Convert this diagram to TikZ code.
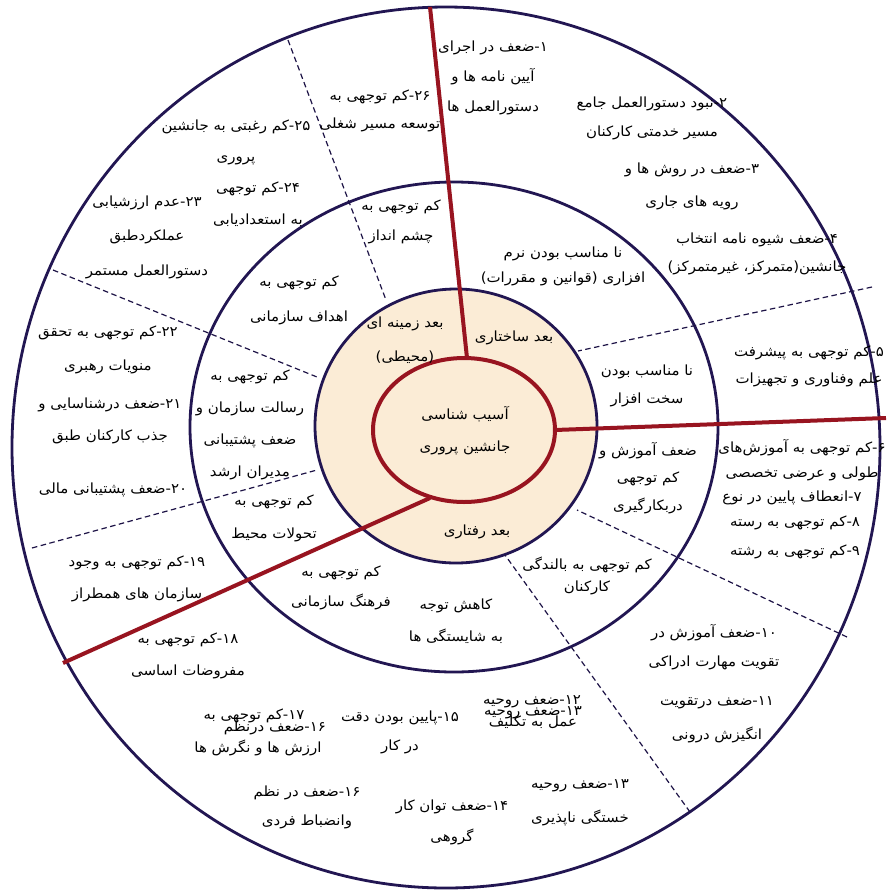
\documentclass[tikz,border=0pt]{standalone}
\usepackage{fontspec}
\newfontfamily\farsi[Script=Arabic,FakeStretch=1.07]{DejaVu Sans}
\TeXXeTstate=1
\newcommand{\fa}[1]{\beginR #1\endR}
\definecolor{ringnavy}{RGB}{34,22,82}
\definecolor{spokered}{RGB}{152,20,32}
\definecolor{corebeige}{RGB}{251,236,214}

\begin{document}
\begin{tikzpicture}[x=1pt,y=-1pt,
 ring/.style={draw=ringnavy,line width=2.8pt},
 spoke/.style={draw=spokered,line width=4pt},
 split/.style={draw=ringnavy!85!black,line width=1.2pt,dash pattern=on 5.5pt off 3.5pt},
 lbl/.style={font=\farsi\fontsize{14}{#1}\selectfont,align=center,inner sep=0pt},
 lbl/.default=30]
\useasboundingbox (0,0) rectangle (887,895);
% rings
\draw[ring,fill=white] (446,447.5) ellipse [x radius=434pt,y radius=440.5pt];
\draw[ring] (454,427) ellipse [x radius=264pt,y radius=245pt];
\draw[ring,fill=corebeige] (456,426) ellipse [x radius=141pt,y radius=137pt];
% spoke ends
\coordinate (topout) at (430,7);
\coordinate (topin) at (467,358);
\coordinate (rightout) at (886,418);
\coordinate (rightin) at (555,430);
\coordinate (leftout) at (63,663);
\coordinate (leftin) at (430,498);
\draw[spoke] (topout)--(topin);
\draw[spoke] (rightout)--(rightin);
\draw[spoke] (leftout)--(leftin);
\draw[spokered,line width=4pt,fill=corebeige] (464,430) ellipse [x radius=91pt,y radius=72pt];
% dashed borders between groups
\coordinate (da1) at (288,40);   \coordinate (db1) at (386,300);
\coordinate (da2) at (53,270);   \coordinate (db2) at (317,377);
\coordinate (da3) at (32,548);   \coordinate (db3) at (317,470);
\coordinate (da4) at (872,287);  \coordinate (db4) at (578,351);
\coordinate (da5) at (847,637);  \coordinate (db5) at (577,510);
\coordinate (da6) at (690,812);  \coordinate (db6) at (505,555);
\foreach \i in {1,...,6} \draw[split] (da\i)--(db\i);
% core
\node[lbl=32] (core) at (465,431) {\fa{آسیب شناسی}\\\fa{جانشین پروری}};
\node[lbl=34] (envdim) at (405,340) {\fa{بعد زمینه ای}\\\fa{(محیطی)}};
\node[lbl] (strdim) at (514,338) {\fa{بعد ساختاری}};
\node[lbl] (behdim) at (477,532) {\fa{بعد رفتاری}};
% middle ring
\node[lbl] (m1) at (401,222) {\fa{کم توجهی به}\\\fa{چشم انداز}};
\node[lbl=25] (m2) at (563,266) {\fa{نا مناسب بودن نرم}\\\fa{افزاری (قوانین و مقررات)}};
\node[lbl=35] (m3) at (299,300) {\fa{کم توجهی به}\\\fa{اهداف سازمانی}};
\node[lbl=32] (m4) at (250,425) {\fa{کم توجهی به}\\\fa{رسالت سازمان و}\\\fa{ضعف پشتیبانی}\\\fa{مدیران ارشد}};
\node[lbl=33] (m5) at (274,518) {\fa{کم توجهی به}\\\fa{تحولات محیط}};
\node[lbl] (m6) at (341,588) {\fa{کم توجهی به}\\\fa{فرهنگ سازمانی}};
\node[lbl=32] (m7) at (456,621) {\fa{کاهش توجه}\\\fa{به شایستگی ها}};
\node[lbl=22] (m8) at (587,576) {\fa{کم توجهی به بالندگی}\\\fa{کارکنان}};
\node[lbl=27.5] (m9) at (648,478) {\fa{ضعف آموزش و}\\\fa{کم توجهی}\\\fa{دربکارگیری}};
\node[lbl=28] (m10) at (647,386) {\fa{نا مناسب بودن}\\\fa{سخت افزار}};
% outer ring
\node[lbl] (o1) at (493,78) {\fa{۱-ضعف در اجرای}\\\fa{آیین نامه ها و}\\\fa{دستورالعمل ها}};
\node[lbl=29] (o2) at (652,118) {\fa{۲-نبود دستورالعمل جامع}\\\fa{مسیر خدمتی کارکنان}};
\node[lbl=33] (o3) at (692,186) {\fa{۳-ضعف در روش ها و}\\\fa{رویه های جاری}};
\node[lbl=28] (o4) at (757,254) {\fa{۴-ضعف شیوه نامه انتخاب}\\\fa{جانشین(متمرکز، غیرمتمرکز)}};
\node[lbl=27] (o5) at (809,366) {\fa{۵-کم توجهی به پیشرفت}\\\fa{علم وفناوری و تجهیزات}};
\node[lbl=25] (o6) at (802,460) {\fa{۶-کم توجهی به آموزش‌های}\\\fa{طولی و عرضی تخصصی}};
\node[lbl] (o7) at (792,498) {\fa{۷-انعطاف پایین در نوع}};
\node[lbl] (o8) at (795,523) {\fa{۸-کم توجهی به رسته}};
\node[lbl] (o9) at (795,552) {\fa{۹-کم توجهی به رشته}};
\node[lbl=29] (o10) at (714,647) {\fa{۱۰-ضعف آموزش در}\\\fa{تقویت مهارت ادراکی}};
\node[lbl=34] (o11) at (717,720) {\fa{۱۱-ضعف درتقویت}\\\fa{انگیزش درونی}};
\node[lbl] (o12) at (532,702) {\fa{۱۲-ضعف روحیه}};
\node[lbl] (o12b) at (533,713) {\fa{۱۳-ضعف روحیه}};
\node[lbl] (o12c) at (533,722) {\fa{عمل به تکلیف}};
\node[lbl=34] (o13) at (580,803) {\fa{۱۳-ضعف روحیه}\\\fa{خستگی ناپذیری}};
\node[lbl=31] (o14) at (452,822) {\fa{۱۴-ضعف توان کار}\\\fa{گروهی}};
\node[lbl=29] (o15) at (400,732) {\fa{۱۵-پایین بودن دقت}\\\fa{در کار}};
\node[lbl=29] (o16) at (307,807) {\fa{۱۶-ضعف در نظم}\\\fa{وانضباط فردی}};
\node[lbl] (o17) at (254,716) {\fa{۱۷-کم توجهی به}};
\node[lbl] (o17b) at (275,728) {\fa{۱۶-ضعف درنظم}};
\node[lbl] (o17c) at (258,748) {\fa{ارزش ها و نگرش ها}};
\node[lbl=32] (o18) at (188,656) {\fa{۱۸-کم توجهی به}\\\fa{مفروضات اساسی}};
\node[lbl=32] (o19) at (137,579) {\fa{۱۹-کم توجهی به وجود}\\\fa{سازمان های همطراز}};
\node[lbl] (o20) at (113,490) {\fa{۲۰-ضعف پشتیبانی مالی}};
\node[lbl=32] (o21) at (110,421) {\fa{۲۱-ضعف درشناسایی و}\\\fa{جذب کارکنان طبق}};
\node[lbl=34] (o22) at (108,350) {\fa{۲۲-کم توجهی به تحقق}\\\fa{منویات رهبری}};
\node[lbl=34.5] (o23) at (147,237) {\fa{۲۳-عدم ارزشیابی}\\\fa{عملکردطبق}\\\fa{دستورالعمل مستمر}};
\node[lbl=32] (o24) at (258,204) {\fa{۲۴-کم توجهی}\\\fa{به استعدادیابی}};
\node[lbl=31] (o25) at (236,142) {\fa{۲۵-کم رغبتی به جانشین}\\\fa{پروری}};
\node[lbl=28] (o26) at (380,111) {\fa{۲۶-کم توجهی به}\\\fa{توسعه مسیر شغلی}};
\end{tikzpicture}
\end{document}
